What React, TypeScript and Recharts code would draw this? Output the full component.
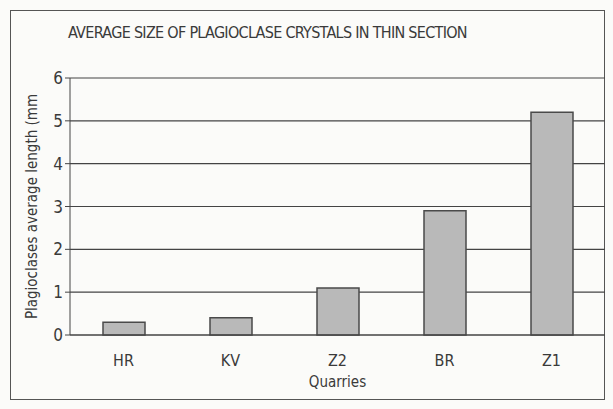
import { BarChart, Bar, XAxis, YAxis, CartesianGrid } from "recharts";

const quarries = ["HR", "KV", "Z2", "BR", "Z1"];
const lengths = [0.3, 0.4, 1.1, 2.9, 5.2];
const yTicks = [0, 1, 2, 3, 4, 5, 6];

const data = quarries.map((q, i) => ({ quarry: q, length: lengths[i] }));

const FONT = "'Liberation Sans Narrow', 'DejaVu Sans Condensed', Arial, sans-serif";
const INK = "#3a3a3a";

export default function App() {
  return (
    <div
      style={{
        position: "absolute",
        left: 0,
        top: 0,
        width: 613,
        height: 409,
        background: "#fbfbf9",
        fontFamily: FONT,
      }}
    >
      <div
        style={{
          position: "absolute",
          left: 10,
          top: 10,
          width: 595,
          height: 390,
          border: "1.5px solid #555",
          boxSizing: "border-box",
        }}
      />
      <div
        style={{
          position: "absolute",
          left: 68,
          top: 23,
          whiteSpace: "nowrap",
          fontSize: 16,
          color: INK,
          letterSpacing: -0.7,
        }}
      >
        AVERAGE SIZE OF PLAGIOCLASE CRYSTALS IN THIN SECTION
      </div>
      <div style={{ position: "absolute", left: 0, top: 0 }}>
        <BarChart
          width={613}
          height={409}
          data={data}
          margin={{ top: 78, right: 8, bottom: 14, left: 20 }}
          barCategoryGap="30%"
        >
          <CartesianGrid vertical={false} stroke="#444" strokeWidth={1.2} />
          <XAxis
            dataKey="quarry"
            stroke="#444"
            tickLine={false}
            height={60}
            tick={{ fill: INK, fontSize: 16, fontFamily: FONT }}
            tickMargin={14}
            label={{
              value: "Quarries",
              position: "insideBottom",
              offset: 8,
              fill: INK,
              fontSize: 15,
              fontFamily: FONT,
            }}
          />
          <YAxis
            domain={[0, 6]}
            ticks={yTicks}
            stroke="#444"
            width={50}
            tickSize={5}
            tick={{ fill: INK, fontSize: 17, fontFamily: FONT }}
            label={{
              value: "Plagioclases average length (mm",
              angle: -90,
              position: "insideLeft",
              offset: 12,
              style: { textAnchor: "middle" },
              fill: INK,
              fontSize: 15,
              fontFamily: FONT,
            }}
          />
          <Bar
            dataKey="length"
            fill="#b9b9b9"
            stroke="#4a4a4a"
            strokeWidth={1.5}
            barSize={42}
            isAnimationActive={false}
          />
        </BarChart>
      </div>
    </div>
  );
}
